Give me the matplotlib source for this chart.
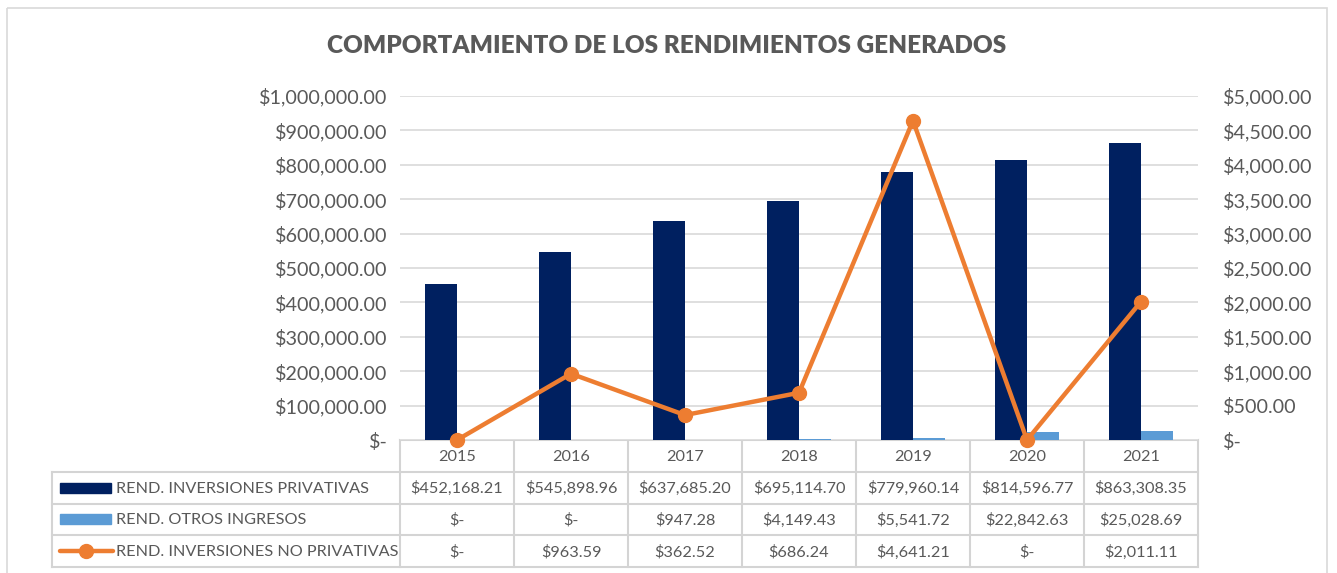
import matplotlib
matplotlib.use("Agg")
import matplotlib.pyplot as plt
from matplotlib.patches import Rectangle
from matplotlib.ticker import FuncFormatter, MultipleLocator
import numpy as np

years = ["2015", "2016", "2017", "2018", "2019", "2020", "2021"]
privativas = [452168.21, 545898.96, 637685.20, 695114.70, 779960.14, 814596.77, 863308.35]
otros = [0.0, 0.0, 947.28, 4149.43, 5541.72, 22842.63, 25028.69]
no_privativas = [0.0, 963.59, 362.52, 686.24, 4641.21, 0.0, 2011.11]
series_names = ["REND. INVERSIONES PRIVATIVAS", "REND. OTROS INGRESOS", "REND. INVERSIONES NO PRIVATIVAS"]
title = "COMPORTAMIENTO DE LOS RENDIMIENTOS GENERADOS"

NAVY = "#002060"
LBLUE = "#5B9BD5"
ORANGE = "#ED7D31"
TXT = "#595959"
GRID = "#D9D9D9"
FONT = "Lato"

plt.rcParams["font.family"] = [FONT, "DejaVu Sans"]

W, H = 1337, 573
fig = plt.figure(figsize=(W / 100, H / 100), dpi=100)

def fmt(v, _=None):
    if abs(v) < 1e-9:
        return "$-"
    return "${:,.2f}".format(v)

# plot area in pixels
px0, px1, py_top, py_bot = 400, 1198, 96, 440
ax = fig.add_axes([px0 / W, 1 - py_bot / H, (px1 - px0) / W, (py_bot - py_top) / H])
ax2 = ax.twinx()

x = np.arange(len(years))
bw = 0.28
ax.bar(x - bw / 2, privativas, bw, color=NAVY, zorder=2)
ax.bar(x + bw / 2, otros, bw, color=LBLUE, zorder=2)
ax.set_xlim(-0.5, len(years) - 0.5)
ax.set_ylim(0, 1_000_000)
ax.yaxis.set_major_locator(MultipleLocator(100_000))
ax.yaxis.set_major_formatter(FuncFormatter(fmt))
ax.grid(axis="y", color=GRID, linewidth=1.2, zorder=0)
ax.set_axisbelow(True)
ax.set_xticks([])

ax2.plot(x, no_privativas, color=ORANGE, linewidth=3.2, marker="o", markersize=10,
         solid_capstyle="round", zorder=5, clip_on=False)
ax2.set_ylim(0, 5000)
ax2.yaxis.set_major_locator(MultipleLocator(500))
ax2.yaxis.set_major_formatter(FuncFormatter(fmt))

for a in (ax, ax2):
    for s in a.spines.values():
        s.set_visible(False)
    a.tick_params(axis="y", length=0, labelsize=14.2, labelcolor=TXT)
ax.tick_params(axis="y", pad=9)
ax2.tick_params(axis="y", pad=18)
for lab in ax2.get_yticklabels():
    lab.set_horizontalalignment("left")

# overlay in pixel coordinates for table, frame and title
ov = fig.add_axes([0, 0, 1, 1], zorder=-1)
ov.set_xlim(0, W)
ov.set_ylim(H, 0)
ov.axis("off")

ov.add_patch(Rectangle((7, 8), 1320, 600, fill=False, edgecolor="#D9D9D9", linewidth=1.2))
ov.text(667, 46, title, ha="center", va="center", fontsize=17.5, fontweight="heavy", color=TXT)

ncol = len(years)
colw = (px1 - px0) / ncol
row_y = [440, 472, 503.5, 535, 567]
leg_x0 = 52
lc = "#D4D4D4"
lw = 1.5
ov.plot([px0, px1], [row_y[0], row_y[0]], color=lc, lw=lw)
for i in range(ncol + 1):
    xx = px0 + i * colw
    ov.plot([xx, xx], [row_y[0], row_y[-1]], color=lc, lw=lw)
for yy in row_y[1:]:
    ov.plot([leg_x0, px1], [yy, yy], color=lc, lw=lw)
ov.plot([leg_x0, leg_x0], [row_y[1], row_y[-1]], color=lc, lw=lw)

tfs = 11.7
for i, yr in enumerate(years):
    ov.text(px0 + (i + 0.5) * colw, (row_y[0] + row_y[1]) / 2 + 1, yr, ha="center", va="center",
            fontsize=tfs, color=TXT)

rows = [privativas, otros, no_privativas]
for r, vals in enumerate(rows):
    yc = (row_y[r + 1] + row_y[r + 2]) / 2 + 1
    for i, v in enumerate(vals):
        ov.text(px0 + (i + 0.5) * colw, yc, fmt(v), ha="center", va="center", fontsize=tfs, color=TXT)
    ov.text(116, yc, series_names[r], ha="left", va="center", fontsize=tfs, color=TXT)

# legend keys
yc0 = (row_y[1] + row_y[2]) / 2
ov.add_patch(Rectangle((60, yc0 - 5), 51, 10, color=NAVY))
yc1 = (row_y[2] + row_y[3]) / 2
ov.add_patch(Rectangle((60, yc1 - 5), 51, 10, color=LBLUE))
yc2 = (row_y[3] + row_y[4]) / 2
ov.plot([60, 113], [yc2, yc2], color=ORANGE, lw=3.2, solid_capstyle="round")
ov.plot([86], [yc2], marker="o", markersize=10, color=ORANGE)

fig.savefig("out.png", dpi=100)
